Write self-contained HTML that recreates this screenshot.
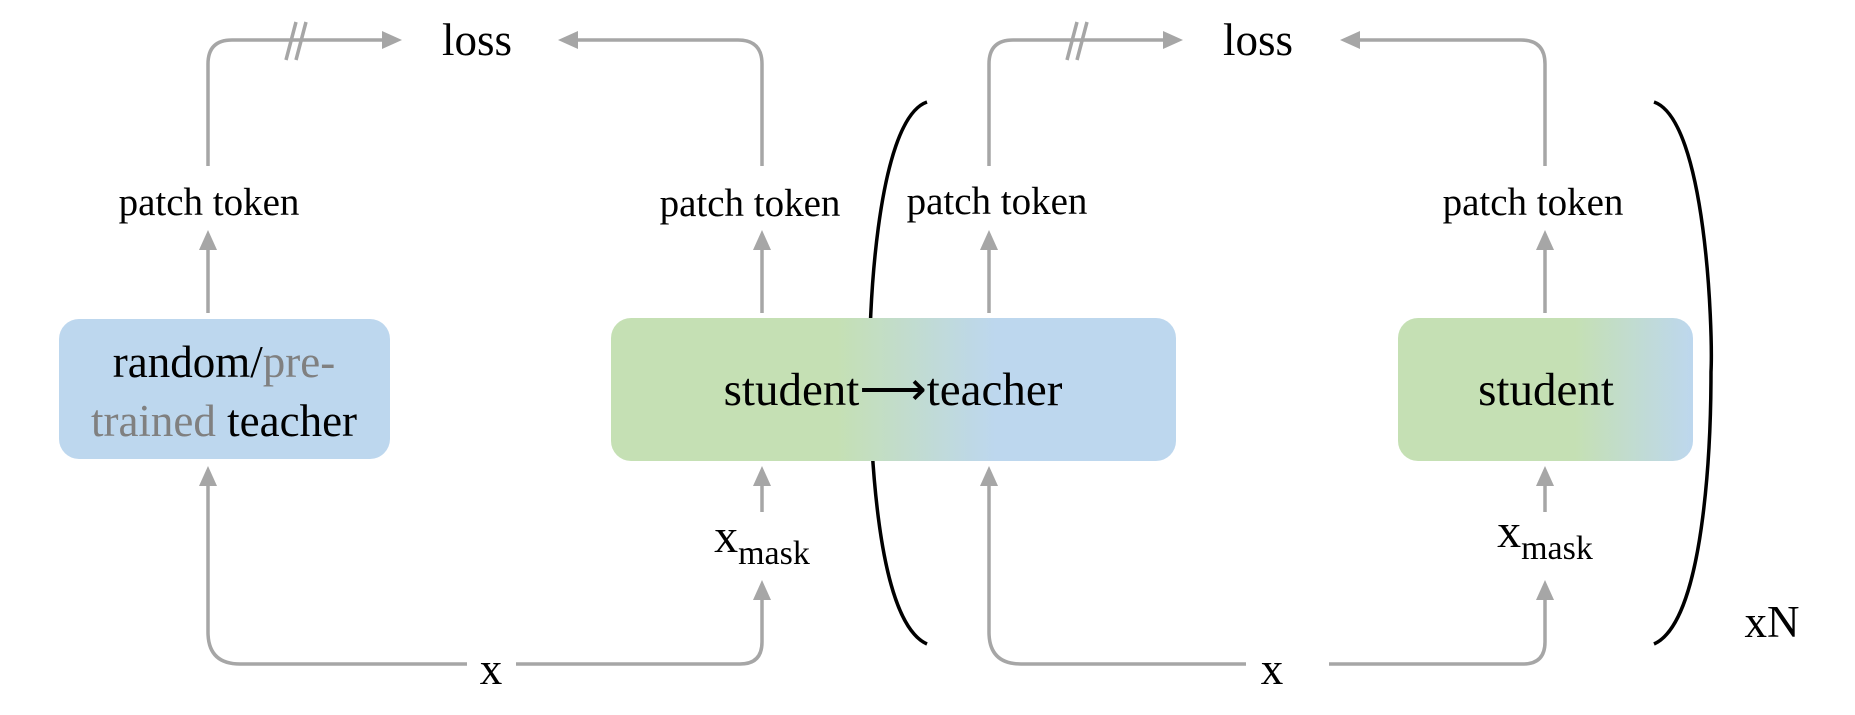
<!DOCTYPE html>
<html><head><meta charset="utf-8"><style>
html,body{margin:0;padding:0;background:#fff;}
svg{display:block;}
text{font-family:"Liberation Serif",serif;fill:#000;}
</style></head><body>
<svg width="1855" height="715" viewBox="0 0 1855 715" xmlns="http://www.w3.org/2000/svg">
<defs>
<linearGradient id="g1" x1="0" x2="1" y1="0" y2="0">
<stop offset="0.4" stop-color="#c5e0b4"/><stop offset="0.68" stop-color="#bdd7ee"/></linearGradient>
<linearGradient id="g2" x1="0" x2="1" y1="0" y2="0">
<stop offset="0.6" stop-color="#c5e0b4"/><stop offset="1" stop-color="#bdd7ee"/></linearGradient>
<marker id="ah" markerWidth="20" markerHeight="18" refX="4" refY="9" orient="auto" markerUnits="userSpaceOnUse" viewBox="0 0 20 18">
<path d="M0,0 L20,9 L0,18 z" fill="#a6a6a6"/></marker>
</defs>
<g fill="none" stroke="#a6a6a6" stroke-width="3.5">
<path d="M208,166 V64 Q208,40 232,40 H386" style="marker-end:url(#ah)"/>
<path d="M762,166 V64 Q762,40 738,40 H574" style="marker-end:url(#ah)"/>
<path d="M208,313 V246" style="marker-end:url(#ah)"/>
<path d="M762,313 V246" style="marker-end:url(#ah)"/>
<path d="M467,664 H240 Q208,664 208,632 V482" style="marker-end:url(#ah)"/>
<path d="M516,664 H740 Q762,664 762,642 V596" style="marker-end:url(#ah)"/>
<path d="M762,512 V482" style="marker-end:url(#ah)"/>
<path d="M989,166 V64 Q989,40 1013,40 H1167" style="marker-end:url(#ah)"/>
<path d="M1545,166 V64 Q1545,40 1521,40 H1356" style="marker-end:url(#ah)"/>
<path d="M989,313 V246" style="marker-end:url(#ah)"/>
<path d="M1545,313 V246" style="marker-end:url(#ah)"/>
<path d="M1246,664 H1021 Q989,664 989,632 V482" style="marker-end:url(#ah)"/>
<path d="M1329,664 H1523 Q1545,664 1545,642 V596" style="marker-end:url(#ah)"/>
<path d="M1545,512 V482" style="marker-end:url(#ah)"/>
<path d="M286,60 L296,22 M296,60 L306,22"/>
<path d="M1067,60 L1077,22 M1077,60 L1087,22"/>
</g>
<g fill="none" stroke="#000" stroke-width="3.5">
<path d="M927,102 C875,120 868,330 870,372 C870,420 873,620 927,644"/>
<path d="M1654,102 C1706,120 1713,330 1711,372 C1711,420 1708,620 1654,644"/>
</g>
<rect x="59" y="319" width="331" height="140" rx="20" fill="#bdd7ee"/>
<rect x="611" y="318" width="565" height="143" rx="20" fill="url(#g1)"/>
<rect x="1398" y="318" width="295" height="143" rx="20" fill="url(#g2)"/>
<g font-size="45" text-anchor="middle">
<text x="477" y="55">loss</text>
<text x="1258" y="55">loss</text>
<text x="224" y="377">random/<tspan fill="#808080">pre-</tspan></text>
<text x="224" y="436"><tspan fill="#808080">trained</tspan> teacher</text>
<text x="893" y="405" font-size="47">student⟶teacher</text>
<text x="1546" y="405" font-size="47">student</text>
<text x="491" y="684">x</text>
<text x="1272" y="684">x</text>
<text x="1772" y="637">xN</text>
<text x="762" y="552" font-size="48">x<tspan font-size="34" dy="12">mask</tspan></text>
<text x="1545" y="547" font-size="48">x<tspan font-size="34" dy="12">mask</tspan></text>
</g>
<g font-size="39" text-anchor="middle">
<text x="209" y="215">patch token</text>
<text x="750" y="216">patch token</text>
<text x="997" y="214">patch token</text>
<text x="1533" y="215">patch token</text>
</g>
</svg>
</body></html>
